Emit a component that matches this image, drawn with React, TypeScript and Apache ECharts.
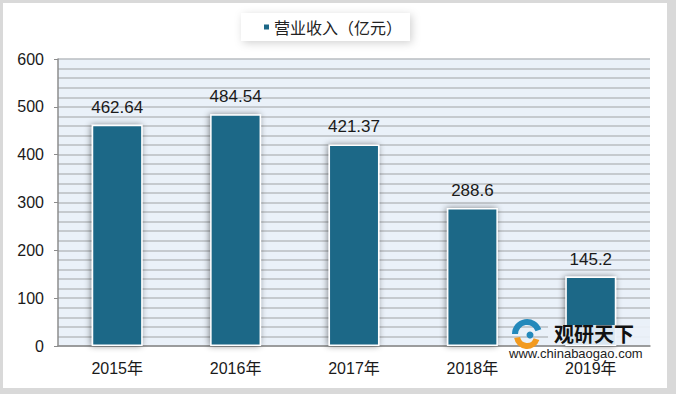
import React, { useEffect, useRef } from "react";
import * as echarts from "echarts";

const categories = ["2015年", "2016年", "2017年", "2018年", "2019年"];
const revenue = [462.64, 484.54, 421.37, 288.6, 145.2];
const seriesName = "营业收入（亿元）";
const yTicks = [0, 100, 200, 300, 400, 500, 600];

const FONT = "Liberation Sans, Arial, 'Noto Sans CJK SC', sans-serif";

export default function App() {
  const ref = useRef<HTMLDivElement>(null);
  useEffect(() => {
    document.body.style.margin = "0";
    const chart = echarts.init(ref.current!, undefined, { renderer: "svg" });
    chart.setOption({
      animation: false,
      backgroundColor: "#d9d9d9",
      textStyle: { fontFamily: FONT },
      graphic: [
        {
          type: "rect",
          z: -10,
          shape: { x: 3, y: 3, width: 664, height: 385 },
          style: { fill: "#ffffff" },
          silent: true,
        },
        {
          type: "rect",
          z: 100,
          shape: { x: 548, y: 325, width: 102, height: 20 },
          style: { fill: "#eaf1f9", opacity: 0.92 },
          silent: true,
        },
        {
          type: "arc",
          z: 101,
          shape: { cx: 527, cy: 334, r: 12, startAngle: Math.PI * 1.0, endAngle: Math.PI * 1.9 },
          style: { stroke: "#2489bb", lineWidth: 6, fill: "none" },
        },
        {
          type: "arc",
          z: 101,
          shape: { cx: 527, cy: 336, r: 10, startAngle: Math.PI * 0.1, endAngle: Math.PI * 0.95 },
          style: { stroke: "#f29a1f", lineWidth: 6, fill: "none" },
        },
        {
          type: "circle",
          z: 101,
          shape: { cx: 530, cy: 335, r: 3.5 },
          style: { fill: "#2489bb" },
        },
        {
          type: "text",
          z: 101,
          x: 554,
          y: 323,
          style: {
            text: "观研天下",
            font: "bold 20px 'Noto Sans CJK SC', sans-serif",
            lineHeight: 20,
            fill: "#111111",
          },
        },
        {
          type: "text",
          z: 101,
          x: 509,
          y: 348,
          style: {
            text: "www.chinabaogao.com",
            font: "13px Liberation Sans, Arial, sans-serif",
            lineHeight: 11,
            fill: "#222222",
          },
        },
      ],
      legend: {
        data: [seriesName],
        left: 241,
        top: 13,
        icon: "rect",
        itemWidth: 7,
        itemHeight: 7,
        itemGap: 6,
        padding: [6, 8, 6, 21],
        backgroundColor: "#ffffff",
        shadowBlur: 8,
        shadowColor: "rgba(0,0,0,0.18)",
        shadowOffsetX: 2,
        shadowOffsetY: 2,
        textStyle: {
          fontSize: 16,
          color: "#222222",
          fontFamily: "'Noto Sans CJK SC', sans-serif",
          padding: [0, 0, 0, -1],
        },
      },
      grid: {
        left: 58,
        right: 26,
        top: 59,
        bottom: 48,
        show: true,
        backgroundColor: "#eaf1f9",
        borderWidth: 0,
      },
      xAxis: {
        type: "category",
        data: categories,
        axisLine: { show: true, lineStyle: { color: "#8c8c8c", width: 1.5 } },
        axisTick: { show: false },
        axisLabel: {
          color: "#1a1a1a",
          fontSize: 16,
          margin: 14,
          fontFamily: "Liberation Sans, Arial, 'Noto Sans CJK SC', sans-serif",
        },
      },
      yAxis: {
        type: "value",
        min: yTicks[0],
        max: yTicks[yTicks.length - 1],
        interval: 100,
        axisLine: { show: true, lineStyle: { color: "#8c8c8c", width: 1.5 } },
        axisTick: { show: true, length: 4, lineStyle: { color: "#8c8c8c" } },
        axisLabel: { color: "#1a1a1a", fontSize: 16, margin: 14 },
        splitLine: { show: true, lineStyle: { color: "#b9bcc0", width: 1.5 } },
        minorTick: { show: false, splitNumber: 5 },
        minorSplitLine: { show: true, lineStyle: { color: "#b9bcc0", width: 1.5 } },
      },
      series: [
        {
          name: seriesName,
          type: "bar",
          data: revenue,
          barWidth: "43%",
          itemStyle: {
            color: "#1c6787",
            borderColor: "#ffffff",
            borderWidth: 1.5,
            shadowBlur: 6,
            shadowColor: "rgba(0,0,0,0.45)",
            shadowOffsetX: -1,
            shadowOffsetY: 0,
          },
          label: {
            show: true,
            position: "top",
            distance: 9,
            fontSize: 17,
            color: "#1a1a1a",
          },
        },
      ],
    });
    return () => chart.dispose();
  }, []);
  return <div ref={ref} style={{ width: 676, height: 394 }} />;
}
